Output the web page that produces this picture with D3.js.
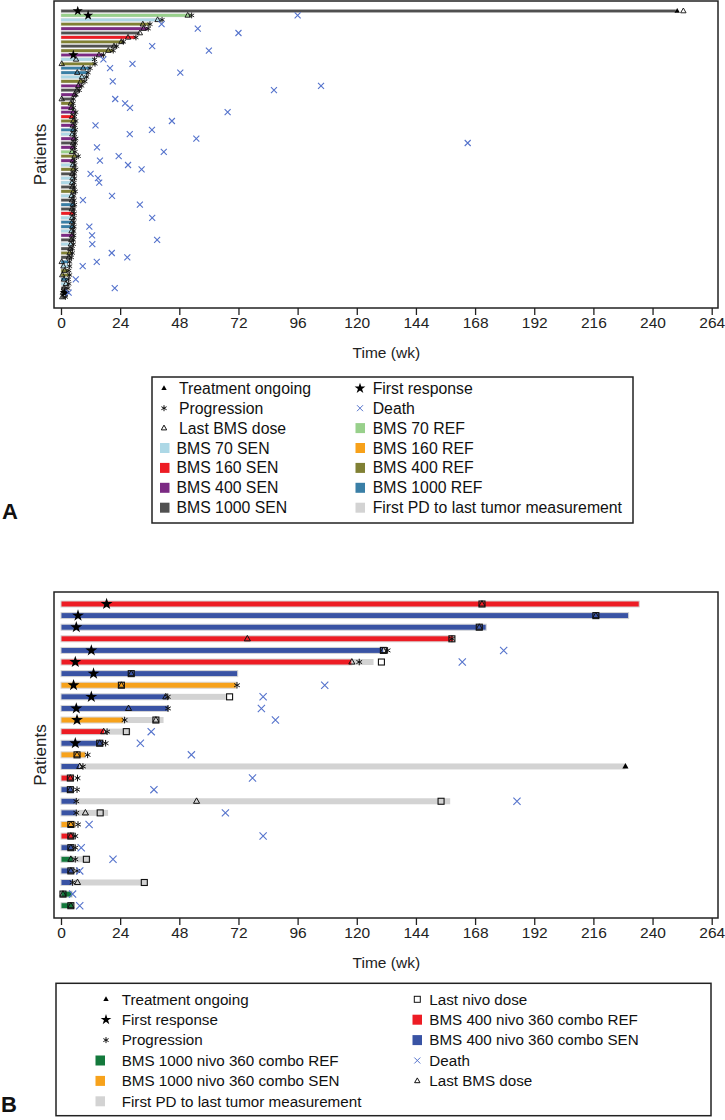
<!DOCTYPE html>
<html><head><meta charset="utf-8">
<script src="https://cdn.jsdelivr.net/npm/d3@7"></script>
<style>body{margin:0;background:#fff}svg{display:block;font-family:"Liberation Sans",Arial,sans-serif}</style>
</head><body><svg id="c" width="725" height="1120"></svg>
<script>
// ---------- shared ----------
const xTicks = [0,24,48,72,96,120,144,168,192,216,240,264];

// ---------- Panel A data (one entry per patient, top to bottom) ----------
const aGroup = ["1000SEN","70REF","70SEN","400REF","400SEN","1000SEN","160SEN","400REF","1000SEN","400REF",
  "400SEN","70SEN","400REF","1000REF","1000REF","70SEN","400REF","400SEN","1000SEN","400SEN",
  "1000SEN","400REF","400SEN","400SEN","160SEN","400REF","400SEN","1000REF","70SEN","400SEN",
  "1000SEN","400SEN","70REF","400REF","400SEN","70SEN","400REF","1000SEN","70SEN","70SEN",
  "1000SEN","400REF","70SEN","1000SEN","1000REF","1000SEN","160SEN","70SEN","1000REF","1000REF",
  "70SEN","400SEN","1000SEN","70SEN","1000SEN","400REF","1000SEN","1000REF","70SEN","400REF",
  "400REF","1000REF","70SEN","1000SEN","1000SEN","1000SEN"];
const aEnd = [249.5,53,41,36,35.4,32,30.4,25.3,22.6,21.2,
  17.2,13.5,13.8,11.8,11,10.4,9.7,8.4,7.4,6.1,
  5,4.9,4.9,6,5.5,6,5.6,5.8,5.5,6,
  5.8,5.5,5.4,6.3,5.5,5.6,6,5.5,5.5,5.2,
  5.4,5.8,5,5.3,5.5,5.2,5.4,5.3,5.2,5.3,
  5,5.2,5,4.8,4.5,4.5,4,3,3.2,3,
  3.3,2.8,3,2.5,2,1.5];
const aResp = [6.8,11,null,null,null,null,null,null,null,null,
  5,null,null,null,null,null,null,null,null,null,
  null,null,null,null,null,null,null,null,null,null,
  null,null,null,null,null,null,null,null,null,null,
  null,null,null,null,null,null,null,null,null,null,
  null,null,null,null,null,null,null,null,null,null,
  null,null,null,null,1.5,null];
const aProg = [null,53,41,36.1,35.4,null,30.4,25.3,22.6,21.2,
  17.2,13.6,13.8,11.8,11,10.4,9.7,8.4,7.4,6.1,
  5,4.9,5,6,5.5,6,5.6,5.8,5.5,6,
  5.8,5.5,5.7,7,5.5,5.6,6,5.5,5.5,5.3,
  5.4,5.8,5.2,5.3,5.5,5.2,5.4,5.3,5.2,5.3,
  5.1,5.2,5,5,4.6,4.6,4.2,3.5,3.5,3.2,
  3.5,3,3.2,2.8,2.3,1.8];
const aLast = [252.5,51.4,39.2,33.2,33.5,32,27.2,24.5,21.5,19.2,
  15.4,6.1,0.3,9,6.6,8.5,8,7,6.5,5.5,
  0.3,4,4.2,5,4.5,5,4.8,5,4.6,5.2,
  4.9,4.8,4.5,5.5,4.8,4.8,5,4.6,4.7,4.5,
  4.6,5,4.3,4.5,4.8,4.4,4.6,4.5,4.5,4.6,
  4.3,4.5,4.2,4,3.8,3.5,3.2,0.3,1,1.5,
  0.5,1.2,2,1.2,0.8,0.5];
const aDeath = [null,96,null,40.8,55.5,72,null,null,37,60,
  null,17.2,29,19.9,48.4,null,21,105.5,86.4,null,
  22,26,28,67.6,null,45,14,36.9,27.9,54.9,
  165,14.6,41.7,23.4,15.8,27.2,32.7,12,15,15.5,
  null,null,20.7,8.9,32,null,null,37,null,11.5,
  null,12.6,39,12.7,null,20.6,26.9,14.5,8.8,null,
  null,6,null,21.8,3.1,null];
const aOngoing = [250];   // only the first patient

// ---------- Panel B data ----------
const bGroup = ["400REF","400SEN","400SEN","400REF","400SEN","400REF","400SEN","1000SEN","400SEN","400SEN",
  "1000SEN","400REF","400SEN","1000SEN","400SEN","400REF","400SEN","400SEN","400SEN","1000SEN",
  "400REF","400SEN","1000REF","400SEN","400SEN","1000REF","1000REF"];
const bEnd = [234.6,230.3,172.5,159.3,130.9,118,71.7,71.1,43,43.7,
  25.4,17.7,17.3,9.9,7.6,5.1,4.9,6.2,6.2,5.8,
  5.1,5.1,4.9,5.1,4.5,4.5,5.1];
const bPd = [null,null,null,null,null,126.8,null,null,67.3,null,
  41.6,28.1,null,null,229,null,null,157.9,19.1,null,
  null,null,11.9,null,35.1,null,null];
const bResp = [18.5,6.9,6.2,null,12.3,5.8,13.2,5.1,12.3,6.2,
  6.5,null,5.8,null,null,null,null,null,null,null,
  null,null,null,null,null,null,null];
const bProg = [null,null,null,158.6,132.5,121,null,71.4,43.3,43.4,
  25.8,18.7,18.1,10.8,8.9,6.7,6.5,6.2,6.2,6.9,
  5.8,5.8,5.8,6.5,4.7,null,null];
const bLast = [170.8,217,169.7,75.6,130.8,118,28.5,24.5,42.5,27.4,
  38.5,17.3,15.7,6.5,7.6,3.8,3.8,55,9.9,4,
  4,4,4,4,6.7,0.8,4];
const bNivo = [170.8,217,169.7,158.6,130.8,130,28.5,24.5,68.4,null,
  38.5,26.5,15.7,6.5,null,3.8,3.8,154.2,15.9,4,
  4,4,10.3,4,33.8,0.8,4];
const bDeath = [null,null,null,null,179.6,162.8,null,107,82,81.3,
  87,36.6,32.2,52.9,null,77.7,37.7,185,66.7,11.4,
  82,8.2,21.1,7.6,null,4.7,7.6];
const bOngoing = [null,null,null,null,null,null,null,null,null,null,
  null,null,null,null,229,null,null,null,null,null,
  null,null,null,null,null,null,null];

// ---------- colours ----------
const colA = {"70SEN":"#add8e6","70REF":"#98d08b","160SEN":"#ed1c24","160REF":"#f7a11a",
  "400SEN":"#7b2a83","400REF":"#808034","1000SEN":"#505050","1000REF":"#3a7fa6"};
const colB = {"1000REF":"#13793c","1000SEN":"#f7a21b","400REF":"#ed1c24","400SEN":"#3953a4"};
const pdCol = "#d3d3d3", deathCol = "#5573cc";

// ---------- symbol helpers ----------
const tri = r => `M0,${-r}L${r*0.9},${r*0.6}L${-r*0.9},${r*0.6}Z`;
const ast = r => `M0,${-r}L0,${r}M${-r*0.87},${-r/2}L${r*0.87},${r/2}M${-r*0.87},${r/2}L${r*0.87},${-r/2}`;
const crs = r => `M${-r},${-r}L${r},${r}M${-r},${r}L${r},${-r}`;
const star = s => d3.symbol(d3.symbolStar, s)();

const svg = d3.select("#c");

function panel(cfg){
  const {top,bottom,rowTop,rowBot,n,group,colors,end,pd,resp,prog,last,nivo,death,ongoing,barH,sc} = cfg;
  const left=54, right=718;
  const x = d3.scaleLinear().domain([0,264]).range([61,711.7]);
  const y = d3.scalePoint().domain(d3.range(n)).range([rowTop,rowBot]);
  const g = svg.append("g");
  const ids = d3.range(n);
  // gray PD extension
  g.selectAll(".pd").data(ids.filter(i=>pd && pd[i]!=null)).join("rect")
    .attr("x",i=>x(end[i])).attr("width",i=>x(pd[i])-x(end[i]))
    .attr("y",i=>y(i)-barH/2).attr("height",barH).attr("fill",pdCol);
  // treatment bars
  g.selectAll(".bar").data(ids).join("rect")
    .attr("x",x(0)).attr("width",i=>x(end[i])-x(0))
    .attr("y",i=>y(i)-barH/2).attr("height",barH)
    .attr("fill",i=>colors[group[i]]).attr("stroke","#d6d6d6").attr("stroke-width",cfg.barStroke);
  const pts = (arr)=> ids.filter(i=>arr && arr[i]!=null);
  // last nivo dose (square)
  if(nivo) g.selectAll(".nv").data(pts(nivo)).join("rect")
    .attr("x",i=>x(nivo[i])-sc.sq).attr("y",i=>y(i)-sc.sq).attr("width",sc.sq*2).attr("height",sc.sq*2)
    .attr("fill","none").attr("stroke","#111").attr("stroke-width",1.1);
  // last BMS dose
  g.selectAll(".ld").data(pts(last)).join("path")
    .attr("transform",i=>`translate(${x(last[i])},${y(i)})`).attr("d",tri(sc.tri))
    .attr("fill","none").attr("stroke","#111").attr("stroke-width",sc.sw);
  // progression
  g.selectAll(".pg").data(pts(prog)).join("path")
    .attr("transform",i=>`translate(${x(prog[i])},${y(i)})`).attr("d",ast(sc.ast))
    .attr("fill","none").attr("stroke","#111").attr("stroke-width",sc.sw);
  // first response
  g.selectAll(".rs").data(pts(resp)).join("path")
    .attr("transform",i=>`translate(${x(resp[i])},${y(i)})`).attr("d",star(sc.star)).attr("fill","#000");
  // ongoing
  g.selectAll(".og").data(pts(ongoing)).join("path")
    .attr("transform",i=>`translate(${x(ongoing[i])},${y(i)})`).attr("d",tri(sc.tri)).attr("fill","#000");
  // death
  g.selectAll(".dt").data(pts(death)).join("path")
    .attr("transform",i=>`translate(${x(death[i])},${y(i)})`).attr("d",crs(sc.crs))
    .attr("fill","none").attr("stroke",deathCol).attr("stroke-width",1.1);
  // frame
  g.append("rect").attr("x",left).attr("y",top).attr("width",right-left).attr("height",bottom-top)
    .attr("fill","none").attr("stroke","#222").attr("stroke-width",1.5);
  // axis
  const ax = g.append("g").attr("transform",`translate(0,${bottom})`)
    .call(d3.axisBottom(x).tickValues(xTicks).tickSize(7).tickSizeOuter(0).tickPadding(1.5));
  ax.select(".domain").remove();
  ax.selectAll("line").attr("stroke","#222").attr("stroke-width",1.3);
  ax.selectAll("text").attr("font-size",15.5).attr("fill","#222").attr("font-family","Liberation Sans, Arial, sans-serif");
  g.append("text").attr("x",(61+711.7)/2).attr("y",bottom+cfg.titleOff).attr("text-anchor","middle")
    .attr("font-size",15.5).attr("fill","#222").text("Time (wk)");
  g.append("text").attr("transform",`translate(46,${(top+bottom)/2}) rotate(-90)`).attr("text-anchor","middle")
    .attr("font-size",17).attr("fill","#222").text("Patients");
}

panel({top:1,bottom:308,rowTop:11,rowBot:297,n:aGroup.length,group:aGroup,colors:colA,
  end:aEnd,pd:null,resp:aResp,prog:aProg,last:aLast,nivo:null,death:aDeath,
  ongoing:aGroup.map((d,i)=>i===0?aOngoing[0]:null),barH:3.2,barStroke:0.4,titleOff:50,
  sc:{tri:3,ast:2.9,star:32,crs:3,sw:0.9,sq:2.5}});

panel({top:592,bottom:918,rowTop:604,rowBot:905.7,n:bGroup.length,group:bGroup,colors:colB,
  end:bEnd,pd:bPd,resp:bResp,prog:bProg,last:bLast,nivo:bNivo,death:bDeath,ongoing:bOngoing,
  barH:6,barStroke:1,titleOff:50,sc:{tri:3.4,ast:3.3,star:44,crs:3.6,sw:1,sq:3}});

// ---------- legends ----------
function legendItem(g,kind,color,sx,y,tx,label,fs,sc){
  if(kind==="rect") g.append("rect").attr("x",sx).attr("y",y-5).attr("width",9.5).attr("height",10).attr("fill",color);
  else if(kind==="ongoing") g.append("path").attr("transform",`translate(${sx},${y})`).attr("d",tri(sc)).attr("fill","#000");
  else if(kind==="last") g.append("path").attr("transform",`translate(${sx},${y})`).attr("d",tri(sc)).attr("fill","none").attr("stroke","#111");
  else if(kind==="prog") g.append("path").attr("transform",`translate(${sx},${y})`).attr("d",ast(sc)).attr("fill","none").attr("stroke","#111");
  else if(kind==="resp") g.append("path").attr("transform",`translate(${sx},${y})`).attr("d",star(sc*12)).attr("fill","#000");
  else if(kind==="death") g.append("path").attr("transform",`translate(${sx},${y})`).attr("d",crs(sc)).attr("fill","none").attr("stroke",deathCol);
  else if(kind==="nivo") g.append("rect").attr("x",sx-3).attr("y",y-3).attr("width",6).attr("height",6).attr("fill","none").attr("stroke","#111");
  g.append("text").attr("x",tx).attr("y",y).attr("dy","0.35em").attr("font-size",fs).attr("fill","#111").text(label);
}
const legA_left = [["ongoing",null,"Treatment ongoing"],["prog",null,"Progression"],["last",null,"Last BMS dose"],
  ["rect",colA["70SEN"],"BMS 70 SEN"],["rect",colA["160SEN"],"BMS 160 SEN"],["rect",colA["400SEN"],"BMS 400 SEN"],["rect",colA["1000SEN"],"BMS 1000 SEN"]];
const legA_right = [["resp",null,"First response"],["death",null,"Death"],["rect",colA["70REF"],"BMS 70 REF"],
  ["rect",colA["160REF"],"BMS 160 REF"],["rect",colA["400REF"],"BMS 400 REF"],["rect",colA["1000REF"],"BMS 1000 REF"],
  ["rect",pdCol,"First PD to last tumor measurement"]];
const gA = svg.append("g");
gA.append("rect").attr("x",152).attr("y",377).attr("width",481).attr("height",146).attr("fill","none").attr("stroke","#222").attr("stroke-width",1.5);
legA_left.forEach((d,i)=>{const y=388.3+i*19.9; legendItem(gA,d[0],d[1],d[0]==="rect"?160:164,y,d[0]==="rect"?176.5:179,d[2],15.8,3);});
legA_right.forEach((d,i)=>{const y=388.3+i*19.9; legendItem(gA,d[0],d[1],d[0]==="rect"?355.5:360,y,372.7,d[2],15.8,3);});

const legB_left = [["ongoing",null,"Treatment ongoing"],["resp",null,"First response"],["prog",null,"Progression"],
  ["rect",colB["1000REF"],"BMS 1000 nivo 360 combo REF"],["rect",colB["1000SEN"],"BMS 1000 nivo 360 combo SEN"],
  ["rect",pdCol,"First PD to last tumor measurement"]];
const legB_right = [["nivo",null,"Last nivo dose"],["rect",colB["400REF"],"BMS 400 nivo 360 combo REF"],
  ["rect",colB["400SEN"],"BMS 400 nivo 360 combo SEN"],["death",null,"Death"],["last",null,"Last BMS dose"]];
const gB = svg.append("g");
gB.append("rect").attr("x",56).attr("y",983.3).attr("width",655).attr("height",132.4).attr("fill","none").attr("stroke","#222").attr("stroke-width",1.5);
legB_left.forEach((d,i)=>{const y=999.3+i*20.4; legendItem(gB,d[0],d[1],d[0]==="rect"?95.5:106,y,121.7,d[2],15.2,3);});
legB_right.forEach((d,i)=>{const y=999.3+i*20.4; legendItem(gB,d[0],d[1],d[0]==="rect"?412.5:417.3,y,429.3,d[2],15.2,3);});

// panel letters
svg.append("text").attr("x",2).attr("y",519).attr("font-size",22).attr("font-weight","bold").attr("fill","#111").text("A");
svg.append("text").attr("x",1).attr("y",1112).attr("font-size",22).attr("font-weight","bold").attr("fill","#111").text("B");
</script></body></html>
